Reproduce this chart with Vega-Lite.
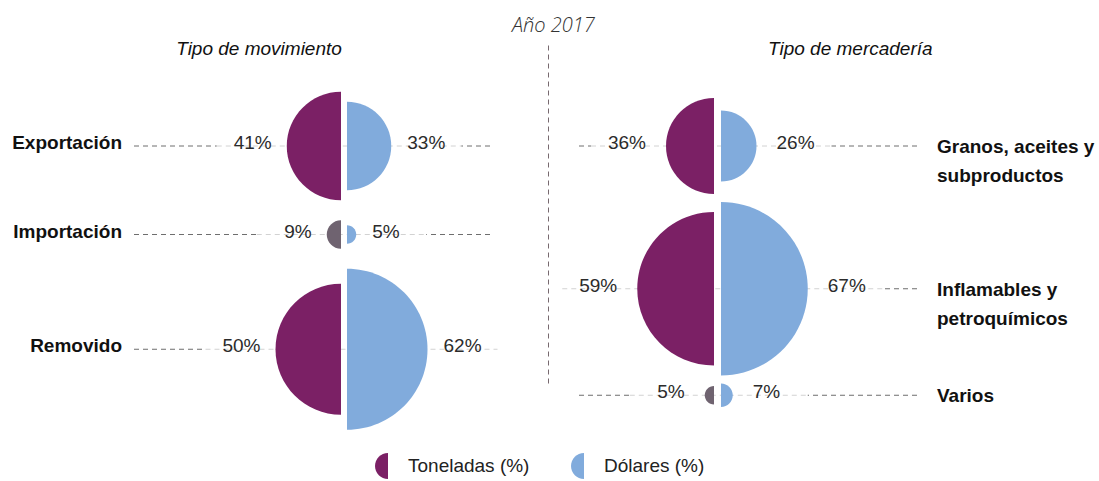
{
  "$schema": "https://vega.github.io/schema/vega-lite/v6.json",
  "background": "white",
  "padding": {"left": 12, "top": 16, "right": 0, "bottom": 0},
  "title": {"text": "Año 2017", "font": "Open Sans", "fontStyle": "italic", "fontWeight": 300, "fontSize": 20, "color": "#333333", "anchor": "middle", "offset": 4},
  "datasets": {
    "mov": [
      {"cat": "Exportación", "ton": 41, "usd": 33},
      {"cat": "Importación", "ton": 9, "usd": 5},
      {"cat": "Removido", "ton": 50, "usd": 62}
    ],
    "merc": [
      {"cat": "Granos, aceites y subproductos", "ton": 36, "usd": 26},
      {"cat": "Inflamables y petroquímicos", "ton": 59, "usd": 67},
      {"cat": "Varios", "ton": 5, "usd": 7}
    ]
  },
  "spacing": 85,
  "bounds": "flush",
  "resolve": {"scale": {"x": "independent", "y": "independent", "color": "shared"}},
  "hconcat": [
    {
      "width": 360,
      "height": 340,
      "title": {"text": "Tipo de movimiento", "anchor": "start", "dx": 164, "dy": 29, "font": "Liberation Sans", "fontStyle": "italic", "fontWeight": "normal", "fontSize": 19, "color": "#111111", "baseline": "alphabetic", "offset": 0},
      "data": {"name": "mov"},
      "transform": [
        {"calculate": "1.25*datum.ton+3", "as": "rt"},
        {"calculate": "1.25*datum.usd+3", "as": "ru"},
        {"calculate": "max(datum.rt, datum.ru)", "as": "rm"},
        {"calculate": "2*datum.rm+20", "as": "d"},
        {"window": [{"op": "sum", "field": "d", "as": "cum"}], "frame": [null, 0]},
        {"calculate": "46.75+datum.cum-datum.rm-20", "as": "yc"},
        {"calculate": "4*datum.rt*datum.rt", "as": "st"},
        {"calculate": "4*datum.ru*datum.ru", "as": "su"},
        {"calculate": "-(datum.rt+3+15)", "as": "xl"},
        {"calculate": "datum.ru+3+16", "as": "xr"},
        {"calculate": "-(datum.rt+3+70)", "as": "xa"},
        {"calculate": "datum.ru+3+70", "as": "xb"},
        {"calculate": "datum.ton+'%'", "as": "tl"},
        {"calculate": "datum.usd+'%'", "as": "tr"}
      ],
      "encoding": {
        "y": {"field": "yc", "type": "quantitative", "scale": {"domain": [0, 340], "reverse": true, "nice": false, "zero": false}, "axis": null}
      },
      "layer": [
        {"mark": {"type": "rule", "color": "#6e6e6e", "strokeWidth": 1, "strokeDash": [5, 4]}, "encoding": {"x": {"value": 0}, "x2": {"value": "width"}}},
        {"mark": {"type": "rule", "color": "white", "strokeWidth": 4}, "encoding": {"x": {"field": "xa", "type": "quantitative", "scale": {"domain": [-210, 150], "nice": false, "zero": false}, "axis": null}, "x2": {"field": "xb"}}},
        {"mark": {"type": "rule", "color": "#d2d2d2", "strokeWidth": 1, "strokeDash": [5, 4]}, "encoding": {"x": {"field": "xa", "type": "quantitative"}, "x2": {"field": "xb"}}},
        {"mark": {"type": "point", "shape": "M0,-1A1,1,0,0,0,0,1Z", "filled": true, "opacity": 1, "strokeWidth": 0, "xOffset": -3},
         "encoding": {
           "x": {"datum": 0, "type": "quantitative"},
           "size": {"field": "st", "type": "quantitative", "scale": null},
           "color": {"condition": {"test": "datum.ton < 10", "value": "#6f6370"}, "datum": "Toneladas (%)", "type": "nominal",
             "scale": {"domain": ["Toneladas (%)", "Dólares (%)"], "range": ["#7b2065", "#81abdc"]},
             "legend": {"orient": "none", "legendX": 240, "legendY": 407, "direction": "horizontal", "title": null, "symbolType": "M0,-1A1,1,0,0,0,0,1Z", "symbolSize": 676, "labelFont": "Liberation Sans", "labelFontSize": 19, "labelColor": "#222222", "labelOffset": 6, "columnPadding": 40}}
         }},
        {"mark": {"type": "point", "shape": "M0,-1A1,1,0,0,1,0,1Z", "filled": true, "opacity": 1, "strokeWidth": 0, "xOffset": 3},
         "encoding": {
           "x": {"datum": 0, "type": "quantitative"},
           "size": {"field": "su", "type": "quantitative", "scale": null},
           "color": {"datum": "Dólares (%)", "type": "nominal"}
         }},
        {"mark": {"type": "text", "align": "right", "baseline": "middle", "dy": -3, "font": "Liberation Sans", "fontSize": 19, "color": "#2b2b2b"},
         "encoding": {"x": {"field": "xl", "type": "quantitative"}, "text": {"field": "tl"}}},
        {"mark": {"type": "text", "align": "left", "baseline": "middle", "dy": -3, "font": "Liberation Sans", "fontSize": 19, "color": "#2b2b2b"},
         "encoding": {"x": {"field": "xr", "type": "quantitative"}, "text": {"field": "tr"}}},
        {"mark": {"type": "text", "align": "right", "baseline": "middle", "dx": -12, "dy": -3, "font": "Liberation Sans", "fontSize": 19, "fontWeight": "bold", "color": "#111111"},
         "encoding": {"x": {"value": 0}, "text": {"field": "cat"}}}
      ]
    },
    {
      "width": 340,
      "height": 340,
      "title": {"text": "Tipo de mercadería", "anchor": "start", "dx": 220, "dy": 29, "font": "Liberation Sans", "fontStyle": "italic", "fontWeight": "normal", "fontSize": 19, "color": "#111111", "baseline": "alphabetic", "offset": 0},
      "data": {"name": "merc"},
      "transform": [
        {"calculate": "1.25*datum.ton+3", "as": "rt"},
        {"calculate": "1.25*datum.usd+3", "as": "ru"},
        {"calculate": "max(datum.rt, datum.ru)", "as": "rm"},
        {"calculate": "2*datum.rm+8", "as": "d"},
        {"window": [{"op": "sum", "field": "d", "as": "cum"}], "frame": [null, 0]},
        {"calculate": "53+datum.cum-datum.rm-8", "as": "yc"},
        {"calculate": "4*datum.rt*datum.rt", "as": "st"},
        {"calculate": "4*datum.ru*datum.ru", "as": "su"},
        {"calculate": "-(datum.rt+3.5+20)", "as": "xl"},
        {"calculate": "datum.ru+3.5+20", "as": "xr"},
        {"calculate": "-(datum.rt+3.5+75)", "as": "xa"},
        {"calculate": "datum.ru+3.5+75", "as": "xb"},
        {"calculate": "datum.ton+'%'", "as": "tl"},
        {"calculate": "datum.usd+'%'", "as": "tr"},
        {"calculate": "replace(datum.cat, ' y ', ' y\\n')", "as": "lab"}
      ],
      "encoding": {
        "y": {"field": "yc", "type": "quantitative", "scale": {"domain": [0, 340], "reverse": true, "nice": false, "zero": false},
          "axis": {"orient": "left", "offset": 31, "domainDash": [5, 4], "domainColor": "#77696f", "domainWidth": 1, "ticks": false, "labels": false, "grid": false, "title": null}}
      },
      "layer": [
        {"mark": {"type": "rule", "color": "#6e6e6e", "strokeWidth": 1, "strokeDash": [5, 4]}, "encoding": {"x": {"value": 0}, "x2": {"value": "width"}}},
        {"mark": {"type": "rule", "color": "white", "strokeWidth": 4}, "encoding": {"x": {"field": "xa", "type": "quantitative", "scale": {"domain": [-138.5, 201.5], "nice": false, "zero": false}, "axis": null}, "x2": {"field": "xb"}}},
        {"mark": {"type": "rule", "color": "#d2d2d2", "strokeWidth": 1, "strokeDash": [5, 4]}, "encoding": {"x": {"field": "xa", "type": "quantitative"}, "x2": {"field": "xb"}}},
        {"mark": {"type": "point", "shape": "M0,-1A1,1,0,0,0,0,1Z", "filled": true, "opacity": 1, "strokeWidth": 0, "xOffset": -3.5},
         "encoding": {
           "x": {"datum": 0, "type": "quantitative"},
           "size": {"field": "st", "type": "quantitative", "scale": null},
           "color": {"condition": {"test": "datum.ton < 10", "value": "#6f6370"}, "datum": "Toneladas (%)", "type": "nominal"}
         }},
        {"mark": {"type": "point", "shape": "M0,-1A1,1,0,0,1,0,1Z", "filled": true, "opacity": 1, "strokeWidth": 0, "xOffset": 3.5},
         "encoding": {
           "x": {"datum": 0, "type": "quantitative"},
           "size": {"field": "su", "type": "quantitative", "scale": null},
           "color": {"datum": "Dólares (%)", "type": "nominal"}
         }},
        {"mark": {"type": "text", "align": "right", "baseline": "middle", "dy": -3, "font": "Liberation Sans", "fontSize": 19, "color": "#2b2b2b"},
         "encoding": {"x": {"field": "xl", "type": "quantitative"}, "text": {"field": "tl"}}},
        {"mark": {"type": "text", "align": "left", "baseline": "middle", "dy": -3, "font": "Liberation Sans", "fontSize": 19, "color": "#2b2b2b"},
         "encoding": {"x": {"field": "xr", "type": "quantitative"}, "text": {"field": "tr"}}},
        {"mark": {"type": "text", "align": "left", "baseline": "middle", "dx": 18, "dy": 1, "lineBreak": "\n", "lineHeight": 29, "font": "Liberation Sans", "fontSize": 19, "fontWeight": "bold", "color": "#111111"},
         "encoding": {"x": {"value": "width"}, "text": {"field": "lab"}}}
      ]
    }
  ],
  "config": {"view": {"stroke": null}}
}
